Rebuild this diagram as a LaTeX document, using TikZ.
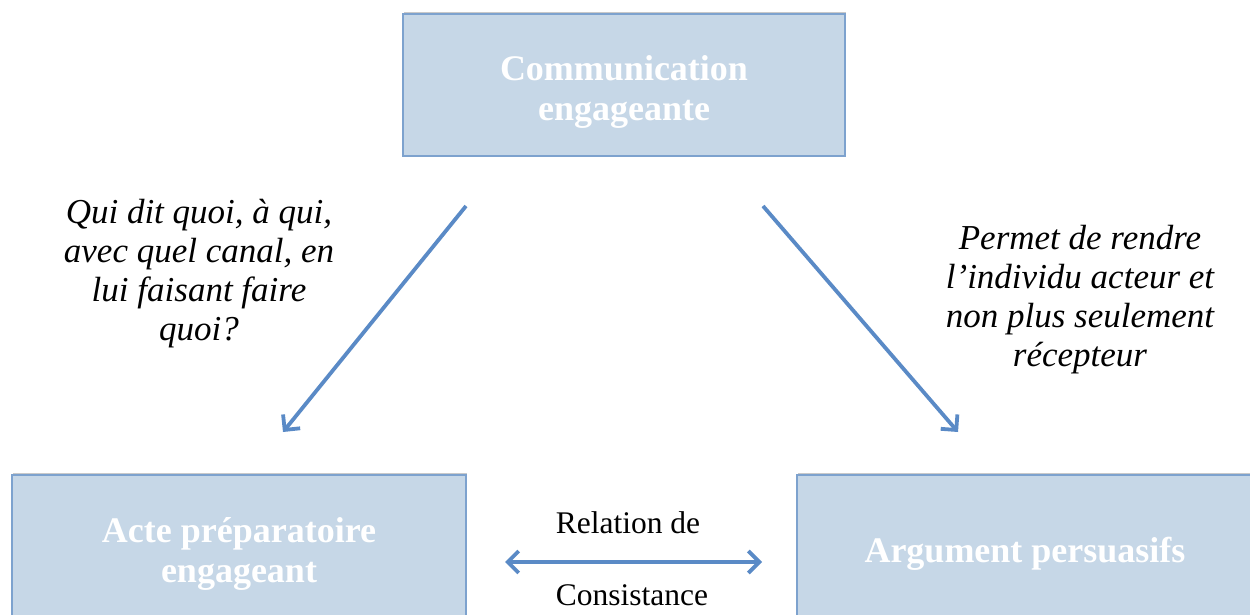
\documentclass[tikz,border=0pt]{standalone}
\usepackage{fontspec}
\setmainfont{Liberation Serif}
\usetikzlibrary{arrows.meta,shadows}
\definecolor{boxfill}{HTML}{C6D7E7}
\definecolor{boxline}{HTML}{7DA2CE}
\definecolor{arrowc}{HTML}{5A8AC6}
\tikzset{
  box/.style={draw=boxline, line width=1.5pt, fill=boxfill, inner sep=0pt,
    drop shadow={shadow xshift=1pt, shadow yshift=2pt, opacity=0.35, fill=black!60}},
  boxtext/.style={text=white, align=center, inner sep=0pt,
    font=\fontsize{36}{40}\selectfont\bfseries},
  note/.style={align=center, font=\fontsize{35}{39}\selectfont\itshape},
  plain/.style={font=\fontsize{31.5}{36}\selectfont},
  link/.style={draw=arrowc, line width=3.8pt, -{Straight Barb[length=11pt,width=22pt]}},
  dlink/.style={draw=arrowc, line width=3.8pt,
    {Straight Barb[length=11pt,width=22pt]}-{Straight Barb[length=11pt,width=22pt]}}
}
\begin{document}
\begin{tikzpicture}[x=1pt,y=-1pt]
\useasboundingbox (0,0) rectangle (1250,615);
\clip (0,0) rectangle (1250,615);
\fill[white] (0,0) rectangle (1250,615);
\node[box, minimum width=442pt, minimum height=142pt] (top) at (624,85) {};
\node[box, minimum width=454pt, minimum height=154pt] (left) at (239,552) {};
\node[box, minimum width=456pt, minimum height=154pt] (right) at (1025,552) {};
\node[boxtext] (toptext) at ([yshift=-7pt]top.center) {Communication\\engageante};
\node[boxtext] (lefttext) at ([yshift=-2pt]left.center) {Acte préparatoire\\engageant};
\node[boxtext] (righttext) at ([yshift=-2pt]right.center) {Argument persuasifs};
\node[note] (qtext) at (199,274) {Qui dit quoi, à qui,\\avec quel canal, en\\lui faisant faire\\quoi?};
\node[note] (ptext) at (1080,300) {Permet de rendre\\l’individu acteur et\\non plus seulement\\récepteur};
\node[plain] (rel) at (628,523) {Relation de};
\node[plain] (cons) at (632,595) {Consistance};
\coordinate (l1) at (466,206);
\coordinate (l2) at (283,432);
\coordinate (r1) at (763,206);
\coordinate (r2) at (958,432);
\coordinate (d1) at (505,562);
\coordinate (d2) at (762,562);
\draw[link] (l1) -- (l2);
\draw[link] (r1) -- (r2);
\draw[dlink] (d1) -- (d2);
\end{tikzpicture}
\end{document}
